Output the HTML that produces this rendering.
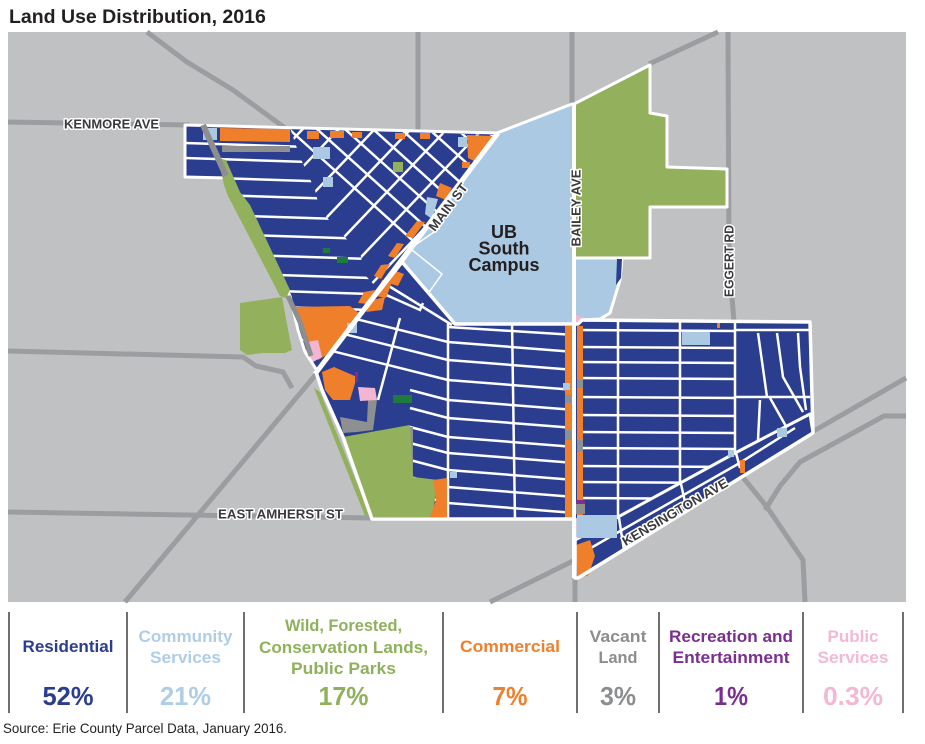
<!DOCTYPE html>
<html><head><meta charset="utf-8">
<style>
html,body{margin:0;padding:0;background:#fff;}
body{width:925px;height:744px;position:relative;overflow:hidden;font-family:"Liberation Sans",sans-serif;}
svg{position:absolute;left:0;top:0;}
</style></head><body>
<svg width="925" height="744" viewBox="0 0 925 744" xmlns="http://www.w3.org/2000/svg">
<defs>
<clipPath id="cUL"><polygon points="185,125 497,133 318,372 305,352 298,330 290,296 250,212 228,178 185,177"/></clipPath>
<clipPath id="cG"><polygon points="290,128 495,135 379,290 365,275 360,253 340,232 320,210 315,190 300,157"/></clipPath>
<clipPath id="cMR"><polygon points="402,262 455,324 578,324 582,320 810,322 813,433 578,578 575,578 575,519 372,519 343,437 322,390 316,372"/></clipPath>
</defs>

<text x="9" y="23" font-size="19.5" font-weight="bold" fill="#231f20" font-family="Liberation Sans, sans-serif">Land Use Distribution, 2016</text>

<!-- map background -->
<rect x="8" y="32" width="898" height="570" fill="#c0c1c3"/>
<g fill="none" stroke="#9c9da0" stroke-width="5" stroke-linejoin="round">
<path d="M8,122 L190,125"/>
<path d="M147,32 L187,62 L233,90 L285,128"/>
<path d="M418,32 L418,130"/>
<path d="M572,32 L572,106"/>
<path d="M649,64 L718,32"/>
<path d="M728,32 L729,260 L734,322"/>
<path d="M8,351 L243,357 L256,366 L283,372 L292,388"/>
<path d="M318,372 L125,602"/>
<path d="M8,512 L372,518"/>
<path d="M575,578 L575,602"/>
<path d="M490,602 L575,560"/>
<path d="M737,470 L767,507 L803,560 L805,602"/>
<path d="M765,510 L780,486 L800,462 L884,416 L906,416"/>
<path d="M812,432 L906,378"/>
</g>

<!-- Upper-left district -->
<polygon points="185,125 497,133 318,372 305,352 298,330 290,296 250,212 228,178 185,177" fill="#2a3d8e"/>
<g clip-path="url(#cUL)" stroke="#fff" stroke-width="2.5" fill="none">
<path d="M185,143 L430,151"/><path d="M185,158 L430,166"/><path d="M185,177 L430,185"/>
<path d="M185,194 L430,202"/><path d="M185,214 L430,222"/><path d="M185,233 L430,241"/>
<path d="M185,253 L430,261"/><path d="M185,272 L430,280"/><path d="M185,288 L430,296"/>
<path d="M185,304 L430,312"/><path d="M185,320 L430,328"/><path d="M185,336 L430,344"/>
</g>
<polygon points="290,128 495,135 379,290 365,275 360,253 340,232 320,210 315,190 300,157" fill="#2a3d8e"/>
<g clip-path="url(#cG)" stroke="#fff" stroke-width="2.5" fill="none">
<path d="M260,103 L560,373"/><path d="M288,103 L588,373"/><path d="M316,103 L616,373"/>
<path d="M344,103 L644,373"/><path d="M372,103 L672,373"/><path d="M400,103 L700,373"/>
<path d="M428,103 L728,373"/><path d="M456,103 L756,373"/>
<path d="M178,260 L478,-55"/><path d="M195,280 L495,-35"/><path d="M212,300 L512,-15"/>
<path d="M229,320 L529,5"/><path d="M246,340 L546,25"/><path d="M263,360 L563,45"/>
<path d="M280,380 L580,65"/><path d="M297,400 L597,85"/>
</g>
<!-- UL patches -->
<g fill="#ef7f2b">
<polygon points="220,128 290,129 290,142 220,141"/>
<rect x="307" y="131" width="12" height="8"/><rect x="330" y="131" width="14" height="7"/>
<rect x="352" y="132" width="10" height="6"/><rect x="395" y="133" width="10" height="6"/>
<rect x="420" y="133" width="10" height="6"/>
<polygon points="467,135 493,136 484,152 476,162 468,158"/>
<rect x="462" y="162" width="8" height="6"/>
<polygon points="440,183 452,188 446,200 436,196"/>
<polygon points="425,222 417,221 405,236 413,238"/>
<polygon points="404,244 397,243 388,256 395,258"/>
<polygon points="390,264 381,265 374,276 381,279"/>
<polygon points="375,290 364,292 358,303 368,304"/>
<polygon points="293,307 350,306 360,314 332,352 318,360 308,347"/>
</g>
<polygon points="307,342 318,340 322,357 313,362 306,352" fill="#f2b6d2"/>
<g fill="#acc9e3">
<rect x="203" y="128" width="14" height="12"/><rect x="313" y="147" width="17" height="12"/>
<rect x="323" y="177" width="10" height="10"/><polygon points="427,197 438,199 432,219 425,214"/>
<rect x="458" y="137" width="9" height="10"/>
</g>
<rect x="393" y="162" width="10" height="10" fill="#93b15d"/>
<rect x="222" y="146" width="68" height="6" fill="#8e8f91"/>
<rect x="323" y="248" width="7" height="5" fill="#1f7a3e"/>
<rect x="337" y="257" width="11" height="6" fill="#1f7a3e"/>
<polygon points="185,125 497,133 318,372 305,352 298,330 290,296 250,212 228,178 185,177" fill="none" stroke="#fff" stroke-width="3" stroke-linejoin="round"/>

<!-- green strip, block, railway -->
<polygon points="218,158 226,160 240,192 250,205 290,290 286,298 280,296 228,196 224,185" fill="#93b15d"/>
<polygon points="240,303 282,297 290,340 292,350 285,353 263,353 247,355 240,350" fill="#93b15d"/>
<path d="M203,125 L226,176" stroke="#8d8e90" stroke-width="6" fill="none"/>
<path d="M288,296 L300,322 L311,356" stroke="#8d8e90" stroke-width="5" fill="none"/>

<!-- campus & green right -->
<polygon points="497,133 572,104 574,104 574,324 455,324 402,262" fill="#acc9e3" stroke="#fff" stroke-width="3" stroke-linejoin="round"/>
<path d="M405,252 L440,228 M412,250 L442,274 L427,295" stroke="#fff" stroke-width="1.5" fill="none"/>
<polygon points="574,104 650,65 650,113 667,116 667,167 727,169 727,207 650,207 650,258 574,258" fill="#93b15d" stroke="#fff" stroke-width="3" stroke-linejoin="round"/>
<polygon points="574,258 622,258 620,280 614,300 610,313 600,319 582,320 574,324" fill="#acc9e3" stroke="#fff" stroke-width="3" stroke-linejoin="round"/>
<polygon points="617,259 622,259 621,278 616,285" fill="#2a3d8e"/>
<polygon points="574,314 584,318 579,326 574,326" fill="#f2b6d2"/>

<!-- middle + right district -->
<polygon points="402,262 455,324 578,324 582,320 810,322 813,433 578,578 575,578 575,519 372,519 343,437 322,390 316,372" fill="#2a3d8e"/>
<g clip-path="url(#cMR)" stroke="#fff" stroke-width="2.5" fill="none">
<path d="M448,322 L448,520"/><path d="M512,322 L515,520"/><path d="M618,320 L618,560"/>
<path d="M680,320 L680,520"/><path d="M735,320 L735,470"/>
<path d="M448,327 L575,335"/>
<path d="M300,305 L448,342 L575,352"/><path d="M300,323 L448,360 L575,370"/>
<path d="M300,343 L448,380 L575,390"/><path d="M410,390 L448,400 L575,410"/>
<path d="M410,408 L448,418 L575,428"/><path d="M410,427 L448,437 L575,447"/>
<path d="M410,443 L448,453 L575,463"/><path d="M410,460 L448,470 L575,480"/>
<path d="M410,477 L448,487 L575,497"/><path d="M410,493 L448,503 L575,513"/>
<path d="M384,283 L452,325"/><path d="M400,318 L378,400"/>
<path d="M375,290 L420,310 L423,303"/>
<path d="M578,330 L735,331"/><path d="M578,347 L735,348"/><path d="M578,362 L735,363"/>
<path d="M578,378 L735,379"/><path d="M578,397 L735,398"/><path d="M578,415 L735,416"/>
<path d="M578,432 L735,433"/><path d="M578,448 L735,449"/><path d="M578,466 L735,467"/>
<path d="M578,482 L735,483"/><path d="M578,498 L735,499"/>
<path d="M735,330 L812,330"/><path d="M735,397 L810,397"/>
<path d="M758,333 L767,397"/><path d="M777,333 L783,377 L803,412"/>
<path d="M798,333 L800,367 L806,410"/><path d="M760,400 L758,440"/><path d="M770,398 L787,428"/>
</g>
<!-- Kensington strip -->
<polygon points="810,414 813,433 578,578 575,578 575,540 618,517 737,452" fill="#2a3d8e" stroke="#fff" stroke-width="3" stroke-linejoin="round"/>
<path d="M795,428 L738,464 L622,530 L577,556" stroke="#fff" stroke-width="2.5" fill="none"/>
<path d="M619,518 L624,550 M681,484 L685,502 M736,453 L740,468" stroke="#fff" stroke-width="2.5" fill="none"/>

<!-- MR patches -->
<g fill="#ef7f2b">
<rect x="565" y="326" width="7" height="192"/><rect x="577" y="326" width="6" height="192"/>
<polygon points="322,372 334,367 357,377 350,400 333,400 325,390"/>
<polygon points="372,300 385,297 382,310 366,312"/>
<polygon points="393,270 404,274 398,286 388,283"/>
<polygon points="382,280 392,282 386,298 376,296"/>
<polygon points="576,545 590,540 595,556 588,576 577,577"/>
<rect x="717" y="320" width="3" height="8"/><rect x="740" y="460" width="5" height="13"/>
</g>
<g fill="#8e8f91">
<rect x="565" y="395" width="7" height="8"/><rect x="565" y="430" width="7" height="10"/>
<rect x="577" y="380" width="6" height="8"/><rect x="577" y="440" width="6" height="12"/>
<rect x="575" y="504" width="10" height="10"/>
<polygon points="340,417 367,422 368,400 377,400 373,430 357,432 343,433"/>
<rect x="408" y="427" width="5" height="50"/>
</g>
<polygon points="358,387 375,388 377,400 360,401" fill="#f2b6d2"/>
<rect x="393" y="395" width="19" height="8" fill="#1f7a3e"/>
<rect x="355" y="372" width="3" height="10" fill="#7b2f8e"/>
<rect x="575" y="500" width="10" height="4" fill="#7b2f8e"/>
<g fill="#acc9e3">
<rect x="347" y="323" width="10" height="10"/><rect x="450" y="472" width="7" height="6"/>
<rect x="563" y="383" width="7" height="7"/><rect x="682" y="332" width="28" height="13"/>
<rect x="728" y="450" width="6" height="7"/><rect x="777" y="428" width="10" height="9"/>
<rect x="577" y="515" width="40" height="23"/>
</g>
<!-- lower park -->
<polygon points="314,388 320,392 370,515 365,516" fill="#93b15d"/>
<polygon points="343,437 410,425 413,477 438,480 433,512 430,517 372,517" fill="#93b15d"/>
<polygon points="433,480 447,478 447,517 430,517 436,500" fill="#ef7f2b"/>

<polygon points="402,262 455,324 578,324 582,320 810,322 813,433 578,578 575,578 575,519 372,519 343,437 322,390 316,372" fill="none" stroke="#fff" stroke-width="3.5" stroke-linejoin="round"/>
<path d="M498,133 L315,374" stroke="#fff" stroke-width="5"/>
<path d="M574,104 L574,578" stroke="#fff" stroke-width="4"/>

<!-- labels -->
<g font-family="Liberation Sans, sans-serif" font-weight="bold" fill="#3a3a3c" stroke="#fff" stroke-width="3" paint-order="stroke" stroke-linejoin="round">
<text x="64" y="128.5" font-size="13" textLength="95" lengthAdjust="spacingAndGlyphs">KENMORE AVE</text>
<text x="218" y="518.5" font-size="13" textLength="125" lengthAdjust="spacingAndGlyphs">EAST AMHERST ST</text>
<text transform="translate(448,207) rotate(-53)" x="0" y="4.5" font-size="13" text-anchor="middle" textLength="56" lengthAdjust="spacingAndGlyphs">MAIN ST</text>
<text transform="translate(576,208) rotate(-90)" x="0" y="4.5" font-size="12.5" text-anchor="middle" textLength="77" lengthAdjust="spacingAndGlyphs">BAILEY AVE</text>
<text transform="translate(729,261) rotate(-90)" x="0" y="4.5" font-size="12.5" text-anchor="middle" textLength="72" lengthAdjust="spacingAndGlyphs">EGGERT RD</text>
<text transform="translate(675,512) rotate(-30.4)" x="0" y="4.5" font-size="13" text-anchor="middle" textLength="120" lengthAdjust="spacingAndGlyphs">KENSINGTON AVE</text>
</g>
<g font-family="Liberation Sans, sans-serif" font-weight="bold" fill="#231f20" font-size="18" text-anchor="middle">
<text x="504" y="238">UB</text>
<text x="504" y="254.5">South</text>
<text x="504" y="271">Campus</text>
</g>

<!-- legend -->
<g stroke="#231f20" stroke-width="1.3">
<line x1="9" y1="612" x2="9" y2="713"/><line x1="127" y1="612" x2="127" y2="713"/>
<line x1="244" y1="612" x2="244" y2="713"/><line x1="443" y1="612" x2="443" y2="713"/>
<line x1="577" y1="612" x2="577" y2="713"/><line x1="659" y1="612" x2="659" y2="713"/>
<line x1="803" y1="612" x2="803" y2="713"/><line x1="903" y1="612" x2="903" y2="713"/>
</g>
<g font-family="Liberation Sans, sans-serif" font-weight="bold" text-anchor="middle" font-size="17">
<text x="68" y="652" fill="#2b3d8f" textLength="91" lengthAdjust="spacingAndGlyphs">Residential</text>
<text x="185.5" y="642" fill="#b0cde7" textLength="94" lengthAdjust="spacingAndGlyphs">Community</text>
<text x="185.5" y="663" fill="#b0cde7" textLength="71" lengthAdjust="spacingAndGlyphs">Services</text>
<text x="343.5" y="631" fill="#8fb15b" textLength="117" lengthAdjust="spacingAndGlyphs">Wild, Forested,</text>
<text x="343.5" y="653" fill="#8fb15b" textLength="169" lengthAdjust="spacingAndGlyphs">Conservation Lands,</text>
<text x="343.5" y="674" fill="#8fb15b" textLength="105" lengthAdjust="spacingAndGlyphs">Public Parks</text>
<text x="510" y="652" fill="#f07f2c" textLength="100" lengthAdjust="spacingAndGlyphs">Commercial</text>
<text x="618" y="642" fill="#8c8d8f" textLength="57" lengthAdjust="spacingAndGlyphs">Vacant</text>
<text x="618" y="663" fill="#8c8d8f" textLength="39" lengthAdjust="spacingAndGlyphs">Land</text>
<text x="731" y="642" fill="#7a2f8f" textLength="124" lengthAdjust="spacingAndGlyphs">Recreation and</text>
<text x="731" y="663" fill="#7a2f8f" textLength="117" lengthAdjust="spacingAndGlyphs">Entertainment</text>
<text x="853" y="642" fill="#f3b8d4" textLength="51" lengthAdjust="spacingAndGlyphs">Public</text>
<text x="853" y="663" fill="#f3b8d4" textLength="71" lengthAdjust="spacingAndGlyphs">Services</text>
</g>
<g font-family="Liberation Sans, sans-serif" font-weight="bold" text-anchor="middle" font-size="26">
<text x="68" y="705" fill="#2b3d8f" textLength="51" lengthAdjust="spacingAndGlyphs">52%</text>
<text x="185.5" y="705" fill="#b0cde7" textLength="51" lengthAdjust="spacingAndGlyphs">21%</text>
<text x="343.5" y="705" fill="#8fb15b" textLength="50" lengthAdjust="spacingAndGlyphs">17%</text>
<text x="510" y="705" fill="#f07f2c" textLength="35" lengthAdjust="spacingAndGlyphs">7%</text>
<text x="618" y="705" fill="#8c8d8f" textLength="36" lengthAdjust="spacingAndGlyphs">3%</text>
<text x="731" y="705" fill="#7a2f8f" textLength="34" lengthAdjust="spacingAndGlyphs">1%</text>
<text x="853" y="705" fill="#f3b8d4" textLength="60" lengthAdjust="spacingAndGlyphs">0.3%</text>
</g>
<text x="3" y="733" font-family="Liberation Sans, sans-serif" font-size="14" fill="#231f20" textLength="284" lengthAdjust="spacingAndGlyphs">Source: Erie County Parcel Data, January 2016.</text>
</svg>
</body></html>
